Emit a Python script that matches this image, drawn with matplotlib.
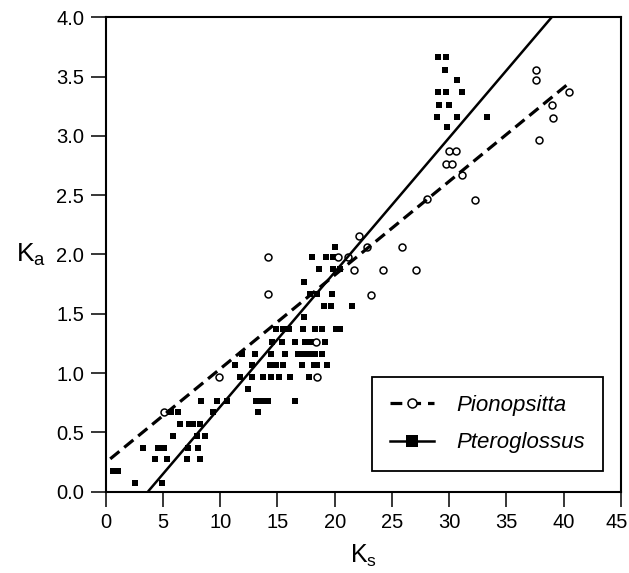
import numpy as np
import matplotlib
matplotlib.use("Agg")
import matplotlib.pyplot as plt
from matplotlib.lines import Line2D
from matplotlib.legend_handler import HandlerLine2D
from matplotlib.transforms import ScaledTranslation

plt.rcParams['font.family'] = ['Liberation Sans', 'DejaVu Sans']
plt.rcParams['mathtext.fontset'] = 'custom'
plt.rcParams['mathtext.rm'] = 'Liberation Sans'
plt.rcParams['lines.scale_dashes'] = False

# Pionopsitta (open circles)
pio_ks = [5.13, 9.9, 14.16, 14.2, 18.35, 18.43, 20.27, 21.2, 21.72, 22.1, 22.8,
          24.26, 25.86, 27.08, 23.18, 28.1, 32.26, 30.0, 30.6, 29.7, 30.28, 31.15,
          37.56, 37.56, 40.5, 39.0, 39.1, 37.85]
pio_ka = [0.67, 0.97, 1.98, 1.67, 1.26, 0.97, 1.98, 1.98, 1.87, 2.16, 2.06,
          1.87, 2.06, 1.87, 1.66, 2.47, 2.46, 2.87, 2.87, 2.76, 2.76, 2.67,
          3.56, 3.47, 3.37, 3.26, 3.15, 2.97]

# Pteroglossus (filled squares)
pte_ks = [0.62, 1.08, 2.57, 4.95,
          3.3, 4.6, 5.1, 7.2, 8.04,
          4.3, 5.4, 7.1, 8.24,
          5.86, 8.0, 8.7,
          6.5, 7.3, 7.6, 8.2,
          5.7, 6.3, 9.35, 13.28,
          8.3, 9.7, 10.6, 13.1, 13.65, 14.2, 16.54,
          12.4,
          11.7, 12.8, 13.7, 14.45, 15.1, 16.1, 17.8,
          11.3, 12.8, 14.36, 14.9, 15.5, 17.13, 18.2, 18.5, 19.36,
          11.94, 13.05, 14.45, 15.67, 16.8, 17.3, 17.8, 18.3, 18.9,
          14.5, 15.4, 16.54, 17.4, 17.9, 19.16,
          14.9, 15.5, 16.0, 17.2, 18.3, 18.9, 20.1, 20.5,
          17.35,
          19.1, 19.7, 21.55,
          17.85, 18.5, 19.8,
          17.35,
          18.67, 19.9, 20.5,
          18.05, 19.25, 19.9,
          20.0,
          29.0, 29.7, 29.6, 30.7, 29.0, 29.7, 31.1, 29.15, 30.0,
          28.9, 30.7, 33.3, 29.85]
pte_ka = [0.17, 0.17, 0.07, 0.07,
          0.365, 0.365, 0.365, 0.365, 0.365,
          0.275, 0.275, 0.275, 0.275,
          0.47, 0.47, 0.47,
          0.57, 0.57, 0.57, 0.57,
          0.675, 0.675, 0.675, 0.675,
          0.76, 0.76, 0.76, 0.76, 0.76, 0.76, 0.76,
          0.865,
          0.97, 0.97, 0.97, 0.97, 0.97, 0.97, 0.97,
          1.07, 1.07, 1.07, 1.07, 1.07, 1.07, 1.07, 1.07, 1.07,
          1.16, 1.16, 1.16, 1.16, 1.16, 1.16, 1.16, 1.16, 1.16,
          1.26, 1.26, 1.26, 1.26, 1.26, 1.26,
          1.37, 1.37, 1.37, 1.37, 1.37, 1.37, 1.37, 1.37,
          1.475,
          1.565, 1.565, 1.565,
          1.665, 1.665, 1.665,
          1.77,
          1.875, 1.875, 1.875,
          1.98, 1.98, 1.98,
          2.065,
          3.665, 3.665, 3.557, 3.473, 3.369, 3.369, 3.369, 3.262, 3.262,
          3.158, 3.158, 3.158, 3.073]

# regression lines: slope, intercept, x range
pio_fit = (0.0791, 0.244)
pio_range = (0.4, 40.3)
pte_fit = (0.1135, -0.42)
pte_range = (3.7, 38.96)

xticks = [0, 5, 10, 15, 20, 25, 30, 35, 40, 45]
yticks = [0.0, 0.5, 1.0, 1.5, 2.0, 2.5, 3.0, 3.5, 4.0]


class EndMarkerHandler(HandlerLine2D):
    # put the legend marker at the right end of the line
    def get_xdata(self, legend, xdescent, ydescent, width, height, fontsize):
        return [-xdescent, -xdescent + width], [-xdescent + width]


fig = plt.figure(figsize=(6.29, 5.73), dpi=100)
ax = fig.add_axes([0.168, 0.1422, 0.819, 0.8273])

ax.plot(pte_ks, pte_ka, 's', color='black', markersize=3.9, markeredgewidth=0)
ax.plot(pio_ks, pio_ka, 'o', markerfacecolor='white', markeredgecolor='black',
        markersize=5, markeredgewidth=1.1)

xs = np.array(pio_range)
ax.plot(xs, pio_fit[0] * xs + pio_fit[1], color='black', linewidth=2.3,
        dashes=(8.5, 4.5))
xs = np.array(pte_range)
ax.plot(xs, pte_fit[0] * xs + pte_fit[1], color='black', linewidth=1.8,
        solid_capstyle='butt')

ax.set_xlim(0, 45)
ax.set_ylim(0, 4.0)
ax.set_xticks(xticks)
ax.set_yticks(yticks)
ax.set_yticklabels(['%.1f' % t for t in yticks])
ax.tick_params(direction='out', length=10.5, width=1.1, labelsize=14.5, pad=5)
for s in ax.spines.values():
    s.set_linewidth(1.5)

# keep the last x tick label inside the figure
last = ax.get_xticklabels()[-1]
last.set_transform(last.get_transform() + ScaledTranslation(-3 / 72, 0, fig.dpi_scale_trans))

ax.set_xlabel(r'$\mathrm{K_s}$', fontsize=18, labelpad=8)
ax.set_ylabel(r'$\mathrm{K_a}$', fontsize=19, rotation=0, labelpad=18, va='center')

h1 = Line2D([], [], color='black', linewidth=2.3, dashes=(8.5, 5.0), marker='o',
            markerfacecolor='white', markeredgecolor='black', markersize=6.5,
            markeredgewidth=1.1)
h2 = Line2D([], [], color='black', linewidth=1.8, marker='s',
            markerfacecolor='black', markersize=8.5, markeredgewidth=0)
leg = ax.legend([h1, h2], ['Pionopsitta', 'Pteroglossus'],
                handler_map={h1: EndMarkerHandler(), h2: EndMarkerHandler()},
                loc='lower right', bbox_to_anchor=(0.965, 0.043),
                prop={'style': 'italic', 'size': 16}, frameon=True, fancybox=False,
                edgecolor='black', framealpha=1, handlelength=2.0,
                handletextpad=1.0, labelspacing=0.75, borderpad=0.8,
                borderaxespad=0)
leg.get_frame().set_linewidth(1.3)

fig.savefig('out.png', dpi=100)
